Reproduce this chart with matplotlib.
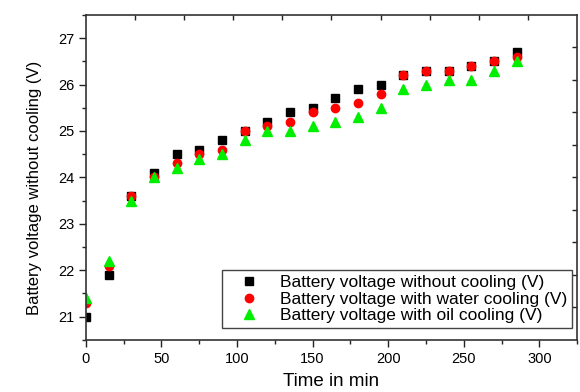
import numpy as np
import matplotlib.pyplot as plt
from matplotlib.ticker import MultipleLocator

plt.rcParams['font.family'] = ['Liberation Sans', 'DejaVu Sans']

time_min = [0, 15, 30, 45, 60, 75, 90, 105, 120, 135, 150, 165, 180, 195, 210, 225, 240, 255, 270, 285]
v_no_cooling = [21.0, 21.9, 23.6, 24.1, 24.5, 24.6, 24.8, 25.0, 25.2, 25.4, 25.5, 25.7, 25.9, 26.0, 26.2, 26.3, 26.3, 26.4, 26.5, 26.7]
v_water = [21.3, 22.1, 23.6, 24.0, 24.3, 24.5, 24.6, 25.0, 25.1, 25.2, 25.4, 25.5, 25.6, 25.8, 26.2, 26.3, 26.3, 26.4, 26.5, 26.6]
v_oil = [21.4, 22.2, 23.5, 24.0, 24.2, 24.4, 24.5, 24.8, 25.0, 25.0, 25.1, 25.2, 25.3, 25.5, 25.9, 26.0, 26.1, 26.1, 26.3, 26.5]

labels = ['Battery voltage without cooling (V)',
          'Battery voltage with water cooling (V)',
          'Battery voltage with oil cooling (V)']

fig = plt.figure(figsize=(5.8, 3.92), dpi=100)
ax = fig.add_axes([0.148, 0.133, 0.847, 0.829])

ax.plot(time_min, v_no_cooling, 's', color='black', ms=5.5, label=labels[0])
ax.plot(time_min, v_water, 'o', color='red', ms=6, label=labels[1])
ax.plot(time_min, v_oil, '^', color='#00ee00', ms=6.5, label=labels[2])

xmin, xmax = 0, 325
ymin, ymax = 20.5, 27.5
ax.set_xlim(xmin, xmax)
ax.set_ylim(ymin, ymax)
ax.xaxis.set_major_locator(MultipleLocator(50))
ax.xaxis.set_minor_locator(MultipleLocator(25))
ax.yaxis.set_major_locator(MultipleLocator(1))
ax.yaxis.set_minor_locator(MultipleLocator(0.5))
ax.tick_params(which='major', direction='out', length=5, width=1, labelsize=10.5, colors='#222222', labelcolor='black')
ax.tick_params(which='minor', direction='out', length=3, width=1, colors='#222222')

for s in ax.spines.values():
    s.set_linewidth(1.2)
    s.set_color('#333333')

# mirror axes (origin style, ticks at tenths of the range, pointing inward)
top = ax.secondary_xaxis('top', functions=(lambda x: (x - xmin) / (xmax - xmin), lambda f: xmin + f * (xmax - xmin)))
top.set_xticks(np.linspace(0.1, 0.9, 9))
top.tick_params(direction='in', length=3.5, width=1, labeltop=False, colors='#222222')
top.spines['top'].set_visible(False)
right = ax.secondary_yaxis('right', functions=(lambda y: (y - ymin) / (ymax - ymin), lambda f: ymin + f * (ymax - ymin)))
right.set_yticks(np.linspace(0.1, 0.9, 9))
right.tick_params(direction='in', length=3.5, width=1, labelright=False, colors='#222222')
right.spines['right'].set_visible(False)

ax.set_xlabel('Time in min', fontsize=13.5, labelpad=5)
ax.set_ylabel('Battery voltage without cooling (V)', fontsize=12)
ax.yaxis.set_label_coords(-0.09, 0.468)

leg = ax.legend(loc='lower right', bbox_to_anchor=(0.99, 0.035), fontsize=12.5, numpoints=1,
                handlelength=2.5, handletextpad=0.5, labelspacing=0.08, borderpad=0.3,
                fancybox=False, framealpha=1, edgecolor='#444444', borderaxespad=0)
leg.get_frame().set_linewidth(1.0)

fig.savefig('out.png', dpi=100)
